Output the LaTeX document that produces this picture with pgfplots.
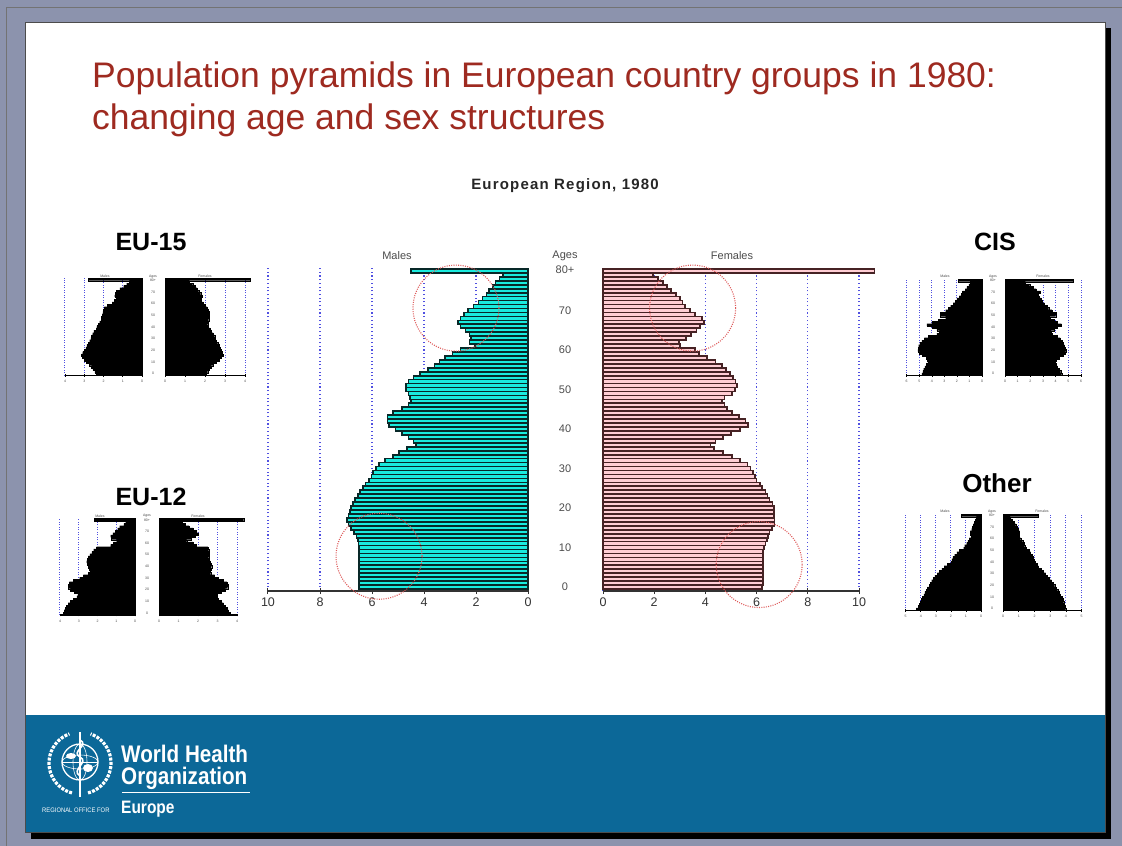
\documentclass[border=0pt]{standalone}
\usepackage{fontspec}
\setmainfont{Liberation Sans}
\usepackage{pgfplots}
\usepackage{pgfplotstable}
\pgfplotsset{compat=1.18}

\definecolor{frame}{RGB}{140,147,173}
\definecolor{whoblue}{RGB}{12,104,152}
\definecolor{ttl}{RGB}{158,42,32}
\definecolor{mfill}{RGB}{25,235,222}
\definecolor{mdraw}{RGB}{8,40,40}
\definecolor{ffill}{RGB}{255,205,212}
\definecolor{fdraw}{RGB}{70,34,36}
\definecolor{gridblue}{RGB}{80,80,225}
\definecolor{circred}{RGB}{222,90,90}

% European Region 1980, % of population by single year of age
\pgfplotstableread{
age m f
0 6.50 6.20
1 6.50 6.25
2 6.50 6.25
3 6.50 6.25
4 6.50 6.25
5 6.50 6.25
6 6.50 6.25
7 6.50 6.25
8 6.50 6.25
9 6.50 6.25
10 6.50 6.28
11 6.52 6.35
12 6.55 6.40
13 6.60 6.45
14 6.70 6.50
15 6.82 6.60
16 6.90 6.70
17 6.95 6.70
18 6.90 6.68
19 6.85 6.68
20 6.80 6.68
21 6.72 6.62
22 6.65 6.50
23 6.55 6.42
24 6.46 6.35
25 6.35 6.22
26 6.25 6.12
27 6.12 6.00
28 6.02 5.93
29 5.95 5.85
30 5.85 5.76
31 5.72 5.65
32 5.50 5.35
33 5.20 5.05
34 4.95 4.70
35 4.65 4.33
36 4.30 4.20
37 4.40 4.40
38 4.60 4.70
39 4.85 5.00
40 5.10 5.35
41 5.35 5.67
42 5.40 5.57
43 5.40 5.30
44 5.20 5.05
45 4.85 4.85
46 4.60 4.75
47 4.50 4.65
48 4.55 4.75
49 4.60 5.05
50 4.70 5.15
51 4.70 5.24
52 4.60 5.18
53 4.40 5.08
54 4.15 4.95
55 3.85 4.80
56 3.60 4.65
57 3.40 4.40
58 3.20 4.05
59 2.90 3.75
60 2.60 3.60
61 2.05 3.00
62 2.25 2.96
63 2.20 3.25
64 2.25 3.45
65 2.40 3.65
66 2.60 3.80
67 2.70 3.94
68 2.60 3.87
69 2.45 3.60
70 2.30 3.40
71 2.10 3.20
72 1.90 3.10
73 1.75 3.00
74 1.60 2.85
75 1.50 2.65
76 1.35 2.50
77 1.25 2.33
78 1.10 2.15
79 0.95 1.95
80 4.50 10.60
}\mainpyr

\pgfplotstableread{
age m f
0 2.36 2.04
2 2.45 2.13
4 2.55 2.22
6 2.62 2.30
8 2.75 2.42
10 2.88 2.55
12 3.00 2.70
14 3.10 2.82
16 3.14 2.89
18 3.08 2.85
20 3.00 2.80
22 2.92 2.76
24 2.86 2.70
26 2.80 2.63
28 2.72 2.56
30 2.66 2.52
32 2.62 2.48
34 2.56 2.40
36 2.50 2.32
38 2.38 2.26
40 2.34 2.15
42 2.28 2.13
44 2.20 2.15
46 2.12 2.18
48 2.10 2.20
50 2.06 2.21
52 2.03 2.20
54 2.00 2.15
56 1.95 2.10
58 1.80 2.00
60 1.55 1.92
62 1.45 1.80
64 1.32 1.82
66 1.42 1.87
68 1.40 1.78
70 1.33 1.68
72 1.15 1.60
74 0.95 1.50
76 0.80 1.38
78 0.65 1.22
80 2.80 4.25
}\euxv

\pgfplotstableread{
age m f
0 3.82 3.65
2 3.78 3.56
4 3.73 3.48
6 3.65 3.38
8 3.56 3.30
10 3.45 3.20
12 3.30 3.05
14 3.10 2.97
16 3.05 3.00
18 3.25 3.20
20 3.45 3.40
22 3.55 3.52
24 3.56 3.53
26 3.50 3.48
28 3.30 3.30
30 2.95 3.05
32 2.75 2.85
34 2.50 2.65
36 2.40 2.62
38 2.45 2.66
40 2.50 2.70
42 2.55 2.66
44 2.58 2.62
46 2.55 2.57
48 2.50 2.55
50 2.40 2.56
52 2.30 2.57
54 2.20 2.55
56 2.05 2.50
58 1.30 1.90
60 1.15 1.75
62 0.98 1.42
64 1.25 1.65
66 1.30 1.85
68 1.18 2.02
70 1.05 1.90
72 0.92 1.75
74 0.82 1.55
76 0.60 1.35
78 0.50 1.20
80 2.17 4.34
}\euxii

\pgfplotstableread{
age m f
0 4.80 4.47
2 4.72 4.40
4 4.65 4.30
6 4.55 4.15
8 4.42 4.05
10 4.32 3.95
12 4.35 4.05
14 4.45 4.30
16 4.75 4.60
18 5.00 4.75
20 5.12 4.80
22 5.10 4.75
24 5.05 4.68
26 4.95 4.60
28 4.80 4.50
30 4.60 4.35
32 4.30 4.15
34 3.60 3.70
36 3.40 3.65
38 3.60 3.85
40 4.00 4.10
42 4.40 4.45
44 4.00 4.10
46 3.50 3.90
48 2.90 3.55
50 3.30 4.00
52 3.30 4.05
54 2.90 3.70
56 2.70 3.45
58 2.50 3.30
60 2.30 3.10
62 2.15 2.95
64 2.00 2.85
66 1.80 2.70
68 1.65 2.65
70 1.55 2.80
72 1.35 2.45
74 1.20 2.20
76 1.05 1.95
78 0.95 1.60
80 1.90 5.40
}\cis

\pgfplotstableread{
age m f
0 4.29 3.98
2 4.18 3.95
4 4.10 3.90
6 4.05 3.85
8 3.98 3.80
10 3.90 3.74
12 3.80 3.64
14 3.72 3.55
16 3.62 3.47
18 3.55 3.38
20 3.45 3.28
22 3.35 3.18
24 3.28 3.08
26 3.15 2.95
28 3.07 2.83
30 2.90 2.70
32 2.75 2.55
34 2.60 2.40
36 2.45 2.25
38 2.25 2.16
40 2.00 2.05
42 1.93 1.98
44 1.86 1.92
46 1.75 1.85
48 1.60 1.75
50 1.45 1.65
52 1.15 1.45
54 1.08 1.38
56 0.95 1.33
58 0.88 1.25
60 0.78 1.12
62 0.66 1.00
64 0.70 1.03
66 0.72 1.05
68 0.62 0.96
70 0.56 0.88
72 0.50 0.80
74 0.44 0.72
76 0.38 0.60
78 0.30 0.45
80 1.29 2.23
}\other

\pgfplotsset{
  pyr/.style={scale only axis, anchor=south west, axis x line*=bottom, axis y line=none,
    clip=false, xmin=0, tick align=center, xmajorgrids,
    /pgf/number format/assume math mode=true},
  big/.style={pyr, height=324pt, ymin=-1, ymax=81, xmax=10, xtick={0,2,...,10},
    major tick length=6pt, axis line style={-, black!80, line width=1.2pt},
    tick style={black!80, line width=1pt},
    grid style={gridblue, line width=1.1pt, dash pattern=on 1.1pt off 2.6pt},
    xticklabel style={font=\fontsize{12.5}{12.5}\selectfont, text=black!80}},
  small/.style={pyr, ymin=-1.5, ymax=81.5, major tick length=2.5pt,
    axis line style={-, black, line width=1.4pt}, tick style={black, line width=0.6pt},
    grid style={gridblue, line width=1pt, dash pattern=on 1pt off 1.5pt},
    xticklabel style={font=\fontsize{3.5}{4}\selectfont, text=black!70}},
  sbar/.style={xbar, bar width=2, fill=black, draw=black, line width=0.2pt},
}

\begin{document}
\begin{tikzpicture}
\path[use as bounding box] (0,0) rectangle (1122pt,-846pt);
% slide background
\begin{scope}[x=1pt,y=-1pt]
  \fill[frame] (0,0) rectangle (1122,846);
  \draw[black!55, line width=1] (6,846) -- (6,7) -- (1122,7);
  \fill[black] (31,28) rectangle (1111,839);
  \fill[white] (25,22) rectangle (1105,715);
  \fill[whoblue] (25,715) rectangle (1105,832);
  \draw[black!70, line width=0.8] (25,22) rectangle (1105,832);
\end{scope}

% slide title
\node[anchor=base west, text=ttl, font=\fontsize{35.5}{40}\selectfont, inner sep=0pt] at (92pt,-87pt) {Population pyramids in European country groups in 1980:};
\node[anchor=base west, text=ttl, font=\fontsize{35.5}{40}\selectfont, inner sep=0pt] at (92pt,-129pt) {changing age and sex structures};

% main chart title
\node[font=\bfseries\fontsize{15}{16}\selectfont\addfontfeature{LetterSpace=8}, text=black!85] at (565pt,-186pt) {European Region, 1980};
\node[font=\fontsize{11}{12}\selectfont, text=black!70] at (397pt,-256pt) {Males};
\node[font=\fontsize{11}{12}\selectfont, text=black!70] at (732pt,-256pt) {Females};
\node[font=\fontsize{11}{12}\selectfont, text=black!70] at (565pt,-256pt) {Ages};
\begin{scope}[x=1pt,y=-1pt]
  \foreach \a in {0,10,...,70} {\node[font=\fontsize{11}{12}\selectfont, text=black!70] at (565,{587-3.95*\a}) {\a};}
  \node[font=\fontsize{11}{12}\selectfont, text=black!70] at (565,270) {80+};
\end{scope}

% Main pyramid: males
\begin{axis}[big, at={(268pt,-591pt)}, width=260pt, x dir=reverse]
\addplot[xbar, bar width=1.0, fill=mfill, draw=mdraw, line width=1.7pt] table[x=m, y=age] {\mainpyr};
\draw[circred, line width=1.1pt, dash pattern=on 1pt off 1.3pt] (axis cs:2.77,70.6) circle[radius=43pt];
\draw[circred, line width=1.1pt, dash pattern=on 1pt off 1.3pt] (axis cs:5.73,7.8) circle[radius=43pt];
\end{axis}
% Main pyramid: females
\begin{axis}[big, at={(603pt,-591pt)}, width=256pt]
\addplot[xbar, bar width=1.0, fill=ffill, draw=fdraw, line width=1.7pt] table[x=f, y=age] {\mainpyr};
\draw[circred, line width=1.1pt, dash pattern=on 1pt off 1.3pt] (axis cs:3.5,70.6) circle[radius=43pt];
\draw[circred, line width=1.1pt, dash pattern=on 1pt off 1.3pt] (axis cs:6.1,5.7) circle[radius=43pt];
\end{axis}

% EU-15
\node[font=\bfseries\fontsize{25}{25}\selectfont] at (151pt,-242pt) {EU-15};
\begin{axis}[small, at={(65pt,-375.7pt)}, width=77pt, height=98pt, xmax=4, xtick={0,...,4}, x dir=reverse]
\addplot[sbar] table[x=m, y=age] {\euxv};
\end{axis}
\begin{axis}[small, at={(165pt,-375.7pt)}, width=80pt, height=98pt, xmax=4, xtick={0,...,4}]
\addplot[sbar] table[x=f, y=age] {\euxv};
\end{axis}

% EU-12
\node[font=\bfseries\fontsize{25}{25}\selectfont] at (151pt,-497pt) {EU-12};
\begin{axis}[small, at={(60pt,-615pt)}, width=75pt, height=97pt, xmax=4, xtick={0,...,4}, x dir=reverse]
\addplot[sbar] table[x=m, y=age] {\euxii};
\end{axis}
\begin{axis}[small, at={(159pt,-615pt)}, width=78pt, height=97pt, xmax=4, xtick={0,...,4}]
\addplot[sbar] table[x=f, y=age] {\euxii};
\end{axis}

% CIS
\node[font=\bfseries\fontsize{25}{25}\selectfont] at (995pt,-242pt) {CIS};
\begin{axis}[small, at={(906.7pt,-375.7pt)}, width=75.3pt, height=97pt, xmax=6, xtick={0,...,6}, x dir=reverse]
\addplot[sbar] table[x=m, y=age] {\cis};
\end{axis}
\begin{axis}[small, at={(1005pt,-375.7pt)}, width=76pt, height=97pt, xmax=6, xtick={0,...,6}]
\addplot[sbar] table[x=f, y=age] {\cis};
\end{axis}

% Other
\node[font=\bfseries\fontsize{26}{26}\selectfont] at (997pt,-483pt) {Other};
\begin{axis}[small, at={(905.7pt,-610.7pt)}, width=75.3pt, height=97pt, xmax=5, xtick={0,...,5}, x dir=reverse]
\addplot[sbar] table[x=m, y=age] {\other};
\end{axis}
\begin{axis}[small, at={(1003pt,-610.7pt)}, width=78.7pt, height=97pt, xmax=5, xtick={0,...,5}]
\addplot[sbar] table[x=f, y=age] {\other};
\end{axis}

% tiny labels on the small pyramids
\begin{scope}[x=1pt,y=-1pt, every node/.style={font=\fontsize{3.5}{4}\selectfont, text=black!70, inner sep=0pt}]
  \foreach \cx/\bx/\fx/\by in {153/105/205/375.7, 147/100/198/615, 993/945/1043/375.7, 992/945/1042/610.7} {
    \node at (\cx,{\by-99}) {Ages};
    \node at (\bx,{\by-99}) {Males};
    \node at (\fx,{\by-99}) {Females};
    \node at (\cx,{\by-95}) {80+};
    \foreach \a in {0,10,...,70} {\node at (\cx,{\by-2-1.17*\a}) {\a};}
  }
\end{scope}

% WHO logo
\begin{scope}[x=1pt,y=-1pt, white]
  \draw[line width=1.3] (80,762) circle (18);
  \draw[line width=0.6] (80,762) ellipse (18 and 7);
  \draw[line width=0.6] (80,762) ellipse (7 and 18);
  \draw[line width=0.6] (62,762) -- (98,762);
  \fill (71,756) ellipse (5 and 3);
  \fill (88,768) ellipse (5 and 4);
  \draw[line width=3.2, dash pattern=on 3 off 1.3] (80,763) ++(105:31) arc (105:250:31);
  \draw[line width=3.2, dash pattern=on 3 off 1.3] (80,763) ++(75:31) arc (75:-70:31);
  \draw[line width=2] (80,732) -- (80,797);
  \draw[line width=1.6] (80,740) .. controls (90,745) and (70,752) .. (80,757) .. controls (90,762) and (70,770) .. (80,776);
\end{scope}
\node[anchor=base west, text=white, font=\bfseries\fontsize{24}{24}\selectfont, inner sep=0pt] at (121pt,-762pt) {\scalebox{0.86}[1]{World Health}};
\node[anchor=base west, text=white, font=\bfseries\fontsize{24}{24}\selectfont, inner sep=0pt] at (121pt,-784pt) {\scalebox{0.86}[1]{Organization}};
\draw[white, line width=0.8pt] (122pt,-792pt) -- (250pt,-792pt);
\node[anchor=base west, text=white, font=\fontsize{6.5}{7}\selectfont, inner sep=0pt] at (42pt,-812pt) {\scalebox{0.9}[1]{REGIONAL OFFICE FOR}};
\node[anchor=base west, text=white, font=\bfseries\fontsize{18}{18}\selectfont, inner sep=0pt] at (121pt,-813pt) {\scalebox{0.86}[1]{Europe}};
\end{tikzpicture}
\end{document}
